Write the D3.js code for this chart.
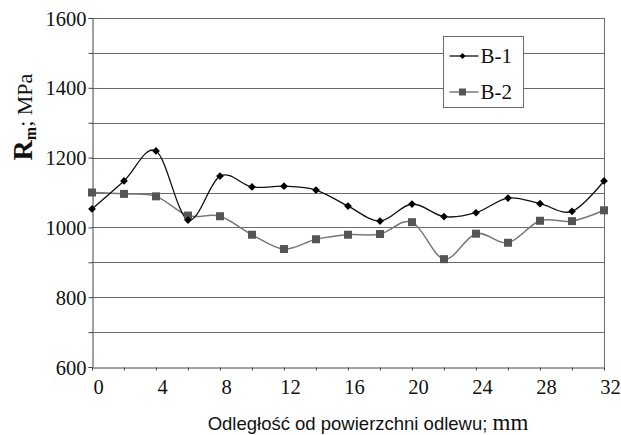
<!DOCTYPE html>
<html>
<head>
<meta charset="utf-8">
<script src="https://cdn.jsdelivr.net/npm/d3@7"></script>
<style>
  body { margin: 0; background: #fff; }
  svg { display: block; }
</style>
</head>
<body>
<div id="chart"></div>
<script>
// data
var distance = [0, 2, 4, 6, 8, 10, 12, 14, 16, 18, 20, 22, 24, 26, 28, 30, 32];
var b1 = [1053, 1133, 1219, 1021, 1147, 1116, 1118, 1107, 1061, 1018, 1067, 1031, 1042, 1084, 1068, 1046, 1133];
var b2 = [1100, 1096, 1089, 1034, 1032, 979, 938, 966, 979, 981, 1015, 909, 982, 956, 1019, 1018, 1049];
var yTicks = [600, 800, 1000, 1200, 1400, 1600];
var yGrid = [700, 800, 900, 1000, 1100, 1200, 1300, 1400, 1500, 1600];
var xLabels = [0, 4, 8, 12, 16, 20, 24, 28, 32];
var xMinor = [0, 2, 4, 6, 8, 10, 12, 14, 16, 18, 20, 22, 24, 26, 28, 30, 32];

var width = 621, height = 435;
var margin = { top: 18, right: 17, bottom: 68, left: 92 };
var w = width - margin.left - margin.right;
var h = height - margin.top - margin.bottom;

var svg = d3.select("#chart").append("svg")
    .attr("width", width)
    .attr("height", height);

var g = svg.append("g")
    .attr("transform", "translate(" + margin.left + "," + margin.top + ")");

var x = d3.scaleLinear().domain([0, 32]).range([0, w]);
var y = d3.scaleLinear().domain([600, 1600]).range([h, 0]);

// gridlines
g.selectAll(".grid")
    .data(yGrid)
    .enter()
    .append("line")
    .attr("x1", 0)
    .attr("x2", w)
    .attr("y1", function (d) { return Math.round(y(d)) + 0.5; })
    .attr("y2", function (d) { return Math.round(y(d)) + 0.5; })
    .attr("stroke", "#6a6a6a")
    .attr("stroke-width", 1);

// right border
g.append("line")
    .attr("x1", w + 0.5).attr("x2", w + 0.5)
    .attr("y1", 0).attr("y2", h)
    .attr("stroke", "#6a6a6a");

// y axis
var yAxis = g.append("g")
    .attr("transform", "translate(0.5,0)")
    .call(d3.axisLeft(y).tickValues(yGrid.concat([600])).tickSize(4).tickFormat(function (d) {
        return yTicks.indexOf(d) >= 0 ? d : "";
    }));
yAxis.select(".domain").attr("stroke", "#444");
yAxis.selectAll(".tick line").attr("stroke", "#444");
yAxis.selectAll(".tick text")
    .attr("x", -6)
    .attr("dy", "0.35em")
    .style("font-family", "'Liberation Serif', 'Times New Roman', serif")
    .style("font-size", "20.5px")
    .attr("fill", "#111");

// x axis
var xAxis = g.append("g")
    .attr("transform", "translate(0," + (h + 0.5) + ")")
    .call(d3.axisBottom(x).tickValues(xMinor).tickSize(3).tickSizeOuter(0).tickFormat(function (d) {
        return xLabels.indexOf(d) >= 0 ? d : "";
    }));
xAxis.select(".domain").attr("stroke", "#444");
xAxis.selectAll(".tick line").attr("stroke", "#444");
xAxis.selectAll(".tick text")
    .attr("y", 12)
    .attr("dx", 6)
    .style("font-family", "'Liberation Serif', 'Times New Roman', serif")
    .style("font-size", "20.5px")
    .attr("fill", "#111");

// lines
var line = d3.line()
    .x(function (d) { return x(d[0]); })
    .y(function (d) { return y(d[1]); })
    .curve(d3.curveCardinal.tension(0));

var s1 = distance.map(function (d, i) { return [d, b1[i]]; });
var s2 = distance.map(function (d, i) { return [d, b2[i]]; });

g.append("path")
    .datum(s2)
    .attr("d", line)
    .attr("fill", "none")
    .attr("stroke", "#777")
    .attr("stroke-width", 1.5);

g.append("path")
    .datum(s1)
    .attr("d", line)
    .attr("fill", "none")
    .attr("stroke", "#111")
    .attr("stroke-width", 1.3);

// markers
g.selectAll(".sq")
    .data(s2)
    .enter()
    .append("rect")
    .attr("x", function (d) { return x(d[0]) - 4; })
    .attr("y", function (d) { return y(d[1]) - 4; })
    .attr("width", 8)
    .attr("height", 8)
    .attr("fill", "#555");

var diamond = d3.symbol().type(d3.symbolDiamond2).size(38);
g.selectAll(".dm")
    .data(s1)
    .enter()
    .append("path")
    .attr("d", diamond)
    .attr("transform", function (d) { return "translate(" + x(d[0]) + "," + y(d[1]) + ")"; })
    .attr("fill", "#000");

// legend
var leg = svg.append("g").attr("transform", "translate(443.5,36.5)");
leg.append("rect")
    .attr("width", 80)
    .attr("height", 71)
    .attr("fill", "#fff")
    .attr("stroke", "#6a6a6a");

leg.append("line")
    .attr("x1", 6).attr("x2", 35).attr("y1", 19.5).attr("y2", 19.5)
    .attr("stroke", "#111").attr("stroke-width", 1.3);
leg.append("path")
    .attr("d", d3.symbol().type(d3.symbolDiamond2).size(22))
    .attr("transform", "translate(19,19.5)")
    .attr("fill", "#000");
leg.append("line")
    .attr("x1", 6).attr("x2", 35).attr("y1", 55.5).attr("y2", 55.5)
    .attr("stroke", "#777").attr("stroke-width", 1.5);
leg.append("rect")
    .attr("x", 15.5).attr("y", 52).attr("width", 7).attr("height", 7)
    .attr("fill", "#555");

leg.selectAll(".lt")
    .data(["B-1", "B-2"])
    .enter()
    .append("text")
    .attr("x", 37)
    .attr("y", function (d, i) { return 19.5 + i * 36; })
    .attr("dy", "0.35em")
    .style("font-family", "'Liberation Serif', 'Times New Roman', serif")
    .style("font-size", "21px")
    .attr("fill", "#111");

leg.selectAll("text").text(function (d) { return d; });

// y title
var yt = svg.append("text")
    .attr("transform", "translate(32,117) rotate(-90)")
    .attr("text-anchor", "middle")
    .style("font-family", "'Liberation Serif', 'Times New Roman', serif")
    .attr("fill", "#111");
yt.append("tspan").text("R").style("font-weight", "bold").style("font-size", "28px");
yt.append("tspan").text("m").style("font-weight", "bold").style("font-size", "16px").attr("dy", 4);
yt.append("tspan").text("; MPa").style("font-size", "22px").attr("dy", -4);

// x title
var xt = svg.append("text")
    .attr("x", 368)
    .attr("y", 430)
    .attr("text-anchor", "middle")
    .attr("fill", "#111");
xt.append("tspan").text("Odległość od powierzchni odlewu; ")
    .style("font-family", "'Liberation Sans', Arial, sans-serif")
    .style("font-size", "18.5px");
xt.append("tspan").text("mm")
    .style("font-family", "'Liberation Serif', 'Times New Roman', serif")
    .style("font-size", "23px");
</script>
</body>
</html>
